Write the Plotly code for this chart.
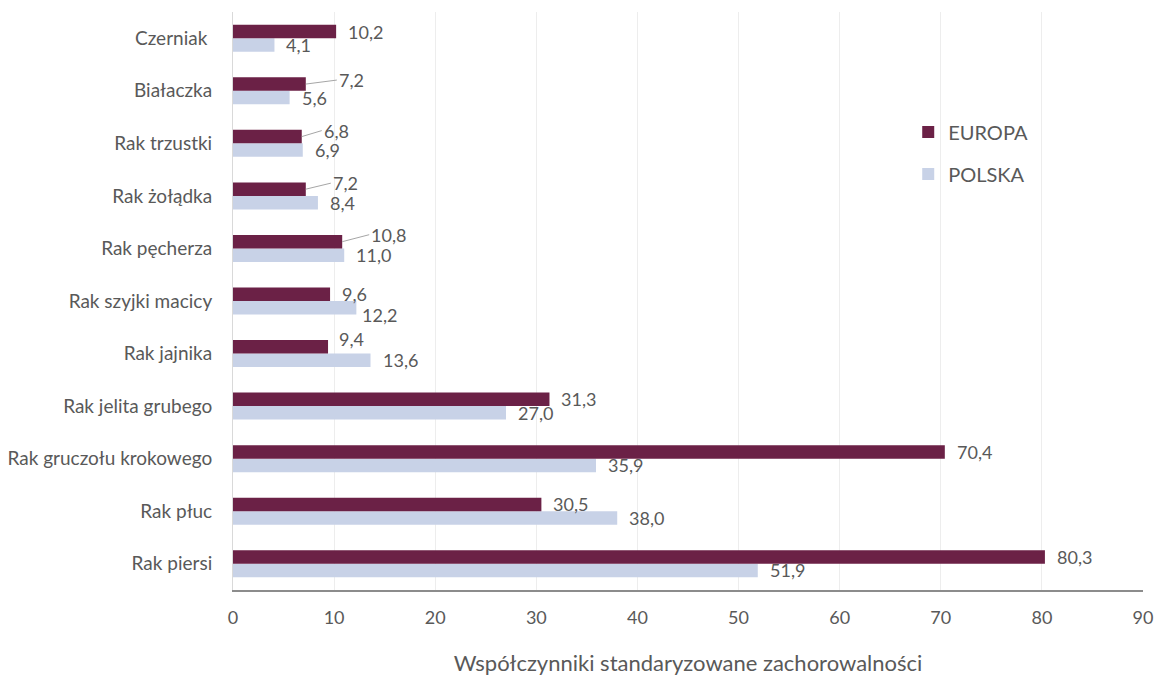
import plotly.graph_objects as go

# Standardised incidence rates, listed bottom-to-top as they appear on the y axis
categories = [
    "Rak piersi", "Rak płuc", "Rak gruczołu krokowego", "Rak jelita grubego",
    "Rak jajnika", "Rak szyjki macicy", "Rak pęcherza", "Rak żołądka",
    "Rak trzustki", "Białaczka", "Czerniak\u00a0",
]
europa = [80.3, 30.5, 70.4, 31.3, 9.4, 9.6, 10.8, 7.2, 6.8, 7.2, 10.2]
polska = [51.9, 38.0, 35.9, 27.0, 13.6, 12.2, 11.0, 8.4, 6.9, 5.6, 4.1]

x_ticks = list(range(0, 100, 10))

# Layout geometry
W, H = 1160, 678
M_L, M_R, M_T, M_B = 233, 17, 12, 88
BARGAP = 0.486
FONT = "Lato"
TXT = "#595959"
C_EU = "#6B2146"
C_PL = "#C8D2E7"

plot_h = H - M_T - M_B
per_cat = plot_h / len(categories)
half_off = (1 - BARGAP) / 4 * per_cat  # pixel offset of each bar centre from its category centre

# Hand-placed data labels: (series, category index) -> (dx px, dy px, leader line)
label_moves = {
    ("EU", 9): (31, -4, True),
    ("EU", 8): (20, -6, True),
    ("EU", 7): (25, -6, True),
    ("EU", 6): (27, -7, True),
    ("EU", 4): (9, -8, False),
    ("PL", 5): (4, 7, False),
}


def fmt(v):
    return f"{v:.1f}".replace(".", ",")


fig = go.Figure()
fig.add_trace(go.Bar(
    y=categories, x=polska, orientation="h", name="POLSKA",
    marker=dict(color=C_PL, line=dict(width=0)),
    legendgroup="pl", legendrank=2,
))
fig.add_trace(go.Bar(
    y=categories, x=europa, orientation="h", name="EUROPA",
    marker=dict(color=C_EU, line=dict(width=0)),
    legendgroup="eu", legendrank=1,
))

annotations = []
for key, values, sign in (("EU", europa, 1), ("PL", polska, -1)):
    for i, (cat, v) in enumerate(zip(categories, values)):
        dx, dy, leader = label_moves.get((key, i), (10, 0, False))
        common = dict(
            x=v, y=cat, xref="x", yref="y", text=fmt(v),
            font=dict(family=FONT, size=18, color=TXT),
            xanchor="left", yanchor="middle",
        )
        if leader:
            annotations.append(dict(
                **common, showarrow=True, arrowhead=0, arrowwidth=1,
                arrowcolor="#A6A6A6", standoff=0, ax=dx, ay=dy,
                yshift=sign * half_off,
            ))
        else:
            annotations.append(dict(
                **common, showarrow=False, xshift=dx,
                yshift=sign * half_off - dy,
            ))

fig.update_layout(
    width=W, height=H,
    margin=dict(l=M_L, r=M_R, t=M_T, b=M_B),
    paper_bgcolor="white", plot_bgcolor="white",
    barmode="group", bargap=BARGAP, bargroupgap=0,
    font=dict(family=FONT, color=TXT),
    annotations=annotations,
    legend=dict(
        x=0.742, y=0.826, xanchor="left", yanchor="top",
        font=dict(family=FONT, size=20, color=TXT),
        traceorder="grouped", tracegroupgap=13,
        itemwidth=30, bgcolor="rgba(0,0,0,0)",
    ),
    xaxis=dict(
        range=[0, 90], tickvals=x_ticks, ticks="",
        showgrid=True, gridcolor="#EDEDED", gridwidth=1,
        showline=True, linecolor="#8C8C8C", linewidth=1.5,
        zeroline=False, ticklabelstandoff=11, automargin=False,
        tickfont=dict(family=FONT, size=18, color=TXT),
        title=dict(text="Współczynniki standaryzowane zachorowalności",
                   font=dict(family=FONT, size=22, color=TXT), standoff=28),
    ),
    yaxis=dict(
        type="category", categoryorder="array", categoryarray=categories,
        ticks="", showgrid=False, showline=True, linecolor="#D9D9D9",
        linewidth=1, ticklabelstandoff=16, automargin=False,
        tickfont=dict(family=FONT, size=19, color=TXT),
    ),
)

fig.write_html("out.html")
